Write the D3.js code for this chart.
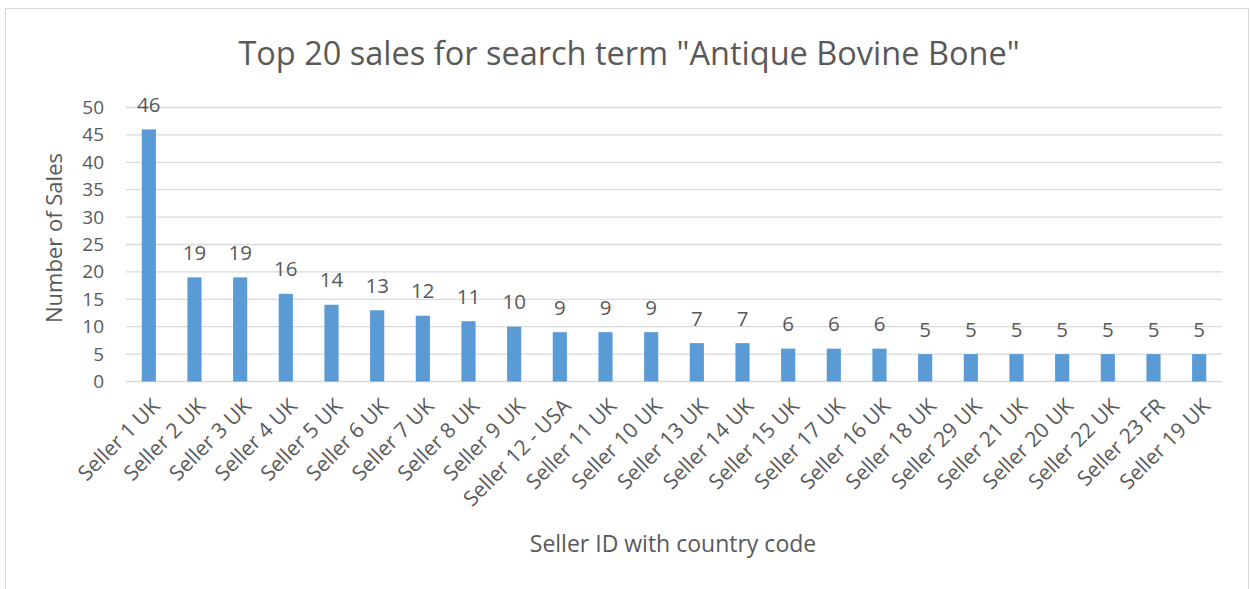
<!DOCTYPE html>
<html>
<head>
<meta charset="utf-8">
<script src="https://cdn.jsdelivr.net/npm/d3@7"></script>
<style>
  body { margin: 0; background: #fff; }
  text { font-family: "Open Sans", "Noto Sans", sans-serif; fill: #595959; }
</style>
</head>
<body>
<svg id="chart" width="1251" height="589"></svg>
<script>
var sellers = ["Seller 1 UK", "Seller 2 UK", "Seller 3 UK", "Seller 4 UK", "Seller 5 UK", "Seller 6 UK",
  "Seller 7 UK", "Seller 8 UK", "Seller 9 UK", "Seller 12 - USA", "Seller 11 UK", "Seller 10 UK",
  "Seller 13 UK", "Seller 14 UK", "Seller 15 UK", "Seller 17 UK", "Seller 16 UK", "Seller 18 UK",
  "Seller 29 UK", "Seller 21 UK", "Seller 20 UK", "Seller 22 UK", "Seller 23 FR", "Seller 19 UK"];
var sales = [46, 19, 19, 16, 14, 13, 12, 11, 10, 9, 9, 9, 7, 7, 6, 6, 6, 5, 5, 5, 5, 5, 5, 5];
var yTicks = [0, 5, 10, 15, 20, 25, 30, 35, 40, 45, 50];

var svg = d3.select("#chart")

// chart border
svg.append("rect")
  .attr("x", 5.5).attr("y", 8.5)
  .attr("width", 1243).attr("height", 600)
  .attr("fill", "none")
  .attr("stroke", "#d9d9d9")

var x = d3.scaleBand().domain(sellers).range([126, 1222]).paddingInner(0.69).paddingOuter(0.345)
var y = d3.scaleLinear().domain([0, 50]).range([381.5, 107.5])

// gridlines
svg.append("g").selectAll("line")
  .data(yTicks)
  .join("line")
  .attr("x1", 126).attr("x2", 1222)
  .attr("y1", d => y(d)).attr("y2", d => y(d))
  .attr("stroke", "#d9d9d9")
  .attr("stroke-width", 1.3)

// y axis labels
var yAxis = svg.append("g")
  .attr("transform", "translate(104,0)")
  .call(d3.axisLeft(y).tickValues(yTicks).tickSize(0).tickPadding(0))
yAxis.select(".domain").remove()
yAxis.selectAll("text")
  .attr("font-size", 19)
  .attr("fill", "#595959")
  .style("font-family", '"Open Sans", "Noto Sans", sans-serif')

// bars
svg.append("g").selectAll("rect")
  .data(sales)
  .join("rect")
  .attr("x", (d, i) => x(sellers[i]))
  .attr("y", d => y(d))
  .attr("width", x.bandwidth())
  .attr("height", d => y(0) - y(d))
  .attr("fill", "#5b9bd5")

// data labels
svg.append("g").selectAll("text")
  .data(sales)
  .join("text")
  .attr("x", (d, i) => x(sellers[i]) + x.bandwidth() / 2)
  .attr("y", d => y(d) - 17.5)
  .attr("text-anchor", "middle")
  .attr("font-size", 20.5)
  .attr("fill", "#404040")
  .text(d => d)

// x labels, rotated
svg.append("g").selectAll("text")
  .data(sellers)
  .join("text")
  .attr("transform", d => "translate(" + (x(d) + x.bandwidth() / 2 + 2) + ",397) rotate(-45)")
  .attr("text-anchor", "end")
  .attr("dy", "0.7em")
  .attr("font-size", 21)
  .text(d => d)

// title
svg.append("text")
  .attr("x", 629).attr("y", 65)
  .attr("text-anchor", "middle")
  .attr("font-size", 32.5)
  .text('Top 20 sales for search term "Antique Bovine Bone"')

// axis titles
svg.append("text")
  .attr("transform", "translate(62,238) rotate(-90)")
  .attr("text-anchor", "middle")
  .attr("font-size", 22)
  .text("Number of Sales")

svg.append("text")
  .attr("x", 673).attr("y", 552)
  .attr("text-anchor", "middle")
  .attr("font-size", 23)
  .text("Seller ID with country code")
</script>
</body>
</html>
